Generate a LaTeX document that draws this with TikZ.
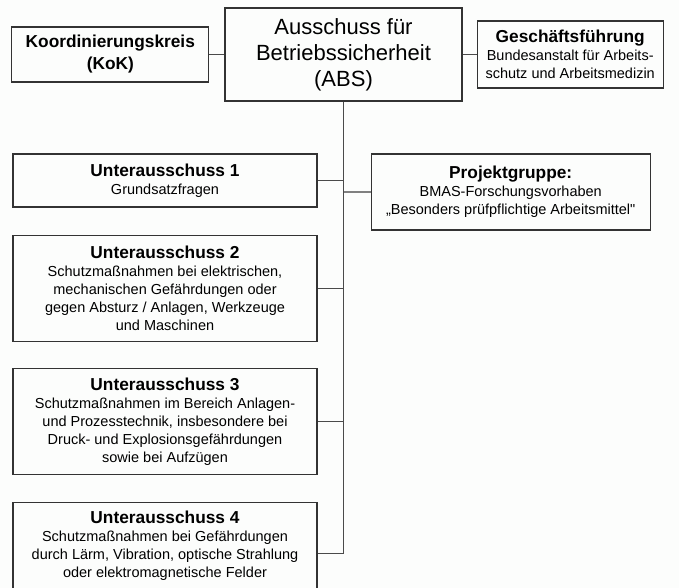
\documentclass[tikz,border=0pt]{standalone}
\usepackage{fontspec}
\setmainfont{Liberation Sans}
\usetikzlibrary{positioning}
\definecolor{paper}{HTML}{FCFDFC}
\definecolor{boxline}{HTML}{333333}
\definecolor{linkline}{HTML}{4A4A4A}
\newcommand{\titel}[1]{{\fontsize{17.3}{20}\selectfont\bfseries #1}}

\begin{document}
\begin{tikzpicture}[x=1pt, y=-1pt,
    gremium/.style={draw=boxline, line width=1.2pt, fill=paper, align=center,
      inner sep=0pt, font=\fontsize{14.5}{18}\selectfont},
    link/.style={draw=linkline, line width=1.1pt}]
  \fill[paper] (0,0) rectangle (679,588);
  \useasboundingbox (0,0) rectangle (679,588);
  \clip (0,0) rectangle (679,588);

  \node[gremium, minimum width=237pt, minimum height=93pt,
    font=\fontsize{22}{26}\selectfont] (abs) at (343.5,54.5)
    {Ausschuss für\\Betriebssicherheit\\(ABS)};
  \node[gremium, minimum width=197pt, minimum height=55pt, left=15pt of abs,
    font=\fontsize{17.3}{22}\selectfont\bfseries] (kok)
    {Koordinierungskreis\\(KoK)};
  \node[gremium, minimum width=186pt, minimum height=67pt, right=14pt of abs] (gf)
    {\titel{Geschäftsführung}\\Bundesanstalt für Arbeits-\\schutz und Arbeitsmedizin};

  \node[gremium, minimum width=304pt, minimum height=53pt] (ua1) at (165,180.5)
    {\titel{Unterausschuss 1}\\Grundsatzfragen};
  \node[gremium, minimum width=304pt, minimum height=106pt, below=27pt of ua1] (ua2)
    {\titel{Unterausschuss 2}\\Schutzmaßnahmen bei elektrischen,\\mechanischen Gefährdungen oder\\gegen Absturz / Anlagen, Werkzeuge\\und Maschinen};
  \node[gremium, minimum width=304pt, minimum height=106pt, below=26pt of ua2] (ua3)
    {\titel{Unterausschuss 3}\\Schutzmaßnahmen im Bereich Anlagen-\\und Prozesstechnik, insbesondere bei\\Druck- und Explosionsgefährdungen\\sowie bei Aufzügen};
  \node[gremium, minimum width=304pt, minimum height=102pt, below=27pt of ua3] (ua4)
    {\titel{Unterausschuss 4}\\Schutzmaßnahmen bei Gefährdungen\\durch Lärm, Vibration, optische Strahlung\\oder elektromagnetische Felder\\ \mbox{}};
  \node[gremium, minimum width=279pt, minimum height=76pt, anchor=north west] (pg)
    at ([xshift=53pt]ua1.north east)
    {\titel{Projektgruppe:}\\BMAS-Forschungsvorhaben\\„Besonders prüfpflichtige Arbeitsmittel\textquotedbl};

  \draw[link] (kok.east) -- (kok.east -| abs.west)
    (gf.west) -- (gf.west -| abs.east)
    (abs.south) -- (abs.south |- ua4.east);
  \foreach \u in {ua1,ua2,ua3,ua4}
    \draw[link] (\u.east) -- (\u.east -| abs.south);
  \draw[link, draw=gray] (pg.west) -- (pg.west -| abs.south);
\end{tikzpicture}
\end{document}
